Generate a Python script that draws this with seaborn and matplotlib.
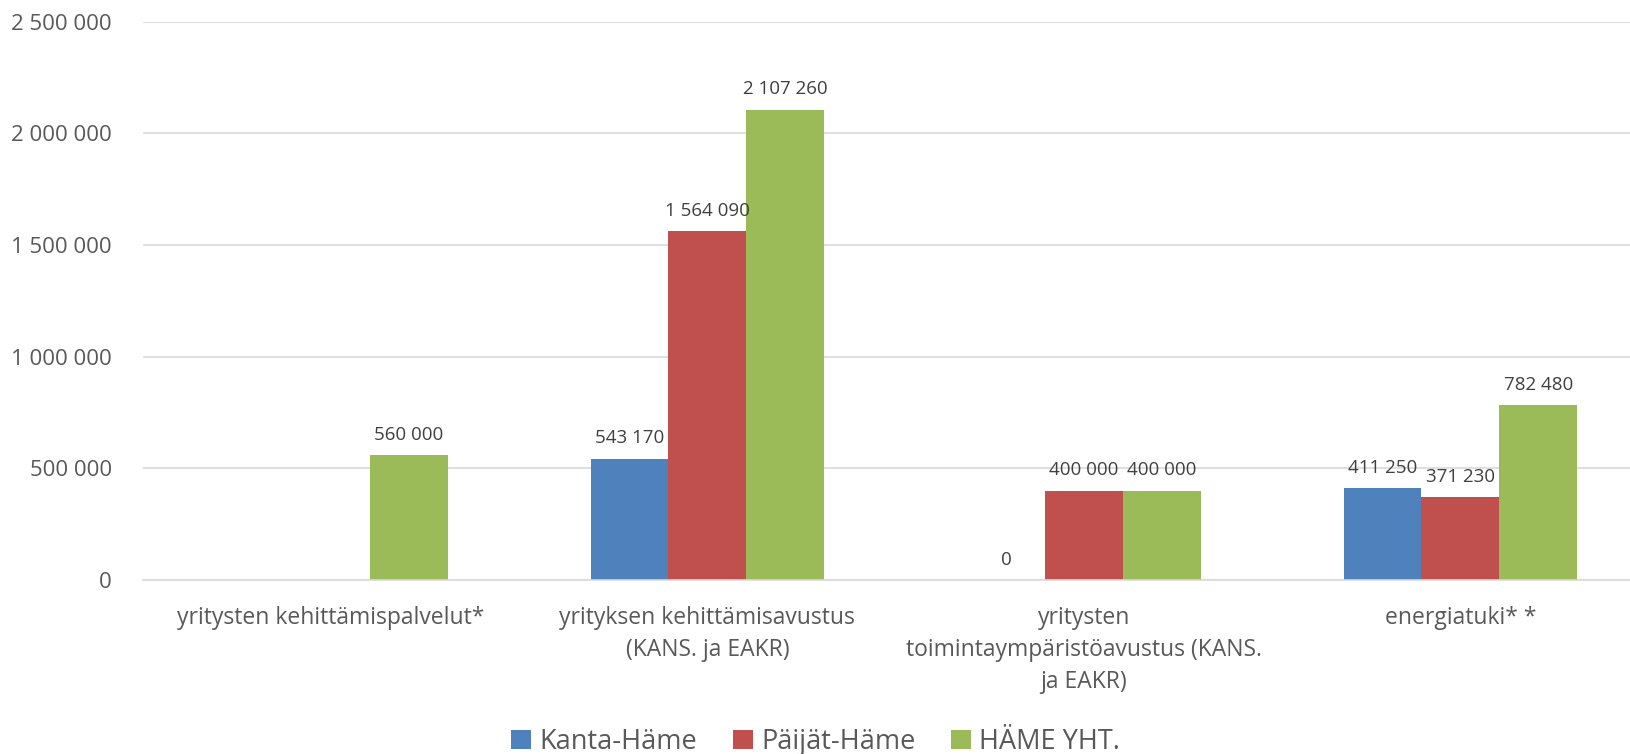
import numpy as np
import pandas as pd
import matplotlib
matplotlib.use("Agg")
import matplotlib.pyplot as plt
import seaborn as sns

categories = ["yritysten kehittämispalvelut*",
              "yrityksen kehittämisavustus (KANS. ja EAKR)",
              "yritysten toimintaympäristöavustus (KANS. ja EAKR)",
              "energiatuki* *"]
tick_labels = ["yritysten kehittämispalvelut*",
               "yrityksen kehittämisavustus\n(KANS. ja EAKR)",
               "yritysten\ntoimintaympäristöavustus (KANS.\nja EAKR)",
               "energiatuki* *"]
series = ["Kanta-Häme", "Päijät-Häme", "HÄME YHT."]
kanta = [np.nan, 543170, 0, 411250]
paijat = [np.nan, 1564090, 400000, 371230]
hame = [560000, 2107260, 400000, 782480]
colors = ["#4F81BD", "#C0504D", "#9BBB59"]
y_ticks = [0, 500000, 1000000, 1500000, 2000000, 2500000]

rows = []
for name, vals in zip(series, [kanta, paijat, hame]):
    for cat, v in zip(categories, vals):
        rows.append({"kategoria": cat, "alue": name, "arvo": v})
df = pd.DataFrame(rows)


def fmt(v):
    return f"{int(round(v)):,}".replace(",", " ")


sns.set_style("white")
plt.rcParams["font.family"] = ["Open Sans", "DejaVu Sans"]

fig = plt.figure(figsize=(16.31, 7.54), dpi=100)
ax = fig.add_axes([0.0874, 0.231, 0.9234, 0.74])

sns.barplot(data=df, x="kategoria", y="arvo", hue="alue", order=categories,
            hue_order=series, palette=colors, errorbar=None, width=0.62,
            saturation=1, linewidth=0, ax=ax)

for cont in ax.containers:
    ax.bar_label(cont, labels=[fmt(h) for h in cont.datavalues],
                 padding=8, fontsize=13.5, color="#404040")

ax.set_ylim(0, 2500000)
ax.set_yticks(y_ticks)
ax.set_yticklabels([fmt(t) for t in y_ticks], fontsize=16, color="#595959")
ax.set_xticks(range(len(categories)))
ax.set_xticklabels(tick_labels, fontsize=16.5, color="#595959", linespacing=1.45)
ax.set_xlim(-0.5, 3.5)
ax.tick_params(axis="both", length=0)
ax.tick_params(axis="x", pad=19)
ax.tick_params(axis="y", pad=22)
ax.set_xlabel("")
ax.set_ylabel("")
ax.yaxis.grid(True, color="#D9D9D9", linewidth=1.2)
ax.set_axisbelow(True)
for s in ["top", "right", "left"]:
    ax.spines[s].set_visible(False)
ax.spines["bottom"].set_color("#D9D9D9")
ax.spines["bottom"].set_linewidth(1.2)

handles, labels = ax.get_legend_handles_labels()
ax.get_legend().remove()
fig.legend(handles, labels, loc="center", bbox_to_anchor=(0.5, 0.016),
           ncol=3, frameon=False, fontsize=19.5, handlelength=0.75,
           handleheight=0.75, handletextpad=0.3, columnspacing=1.3,
           labelcolor="#595959")

plt.savefig("out.png", dpi=100)
